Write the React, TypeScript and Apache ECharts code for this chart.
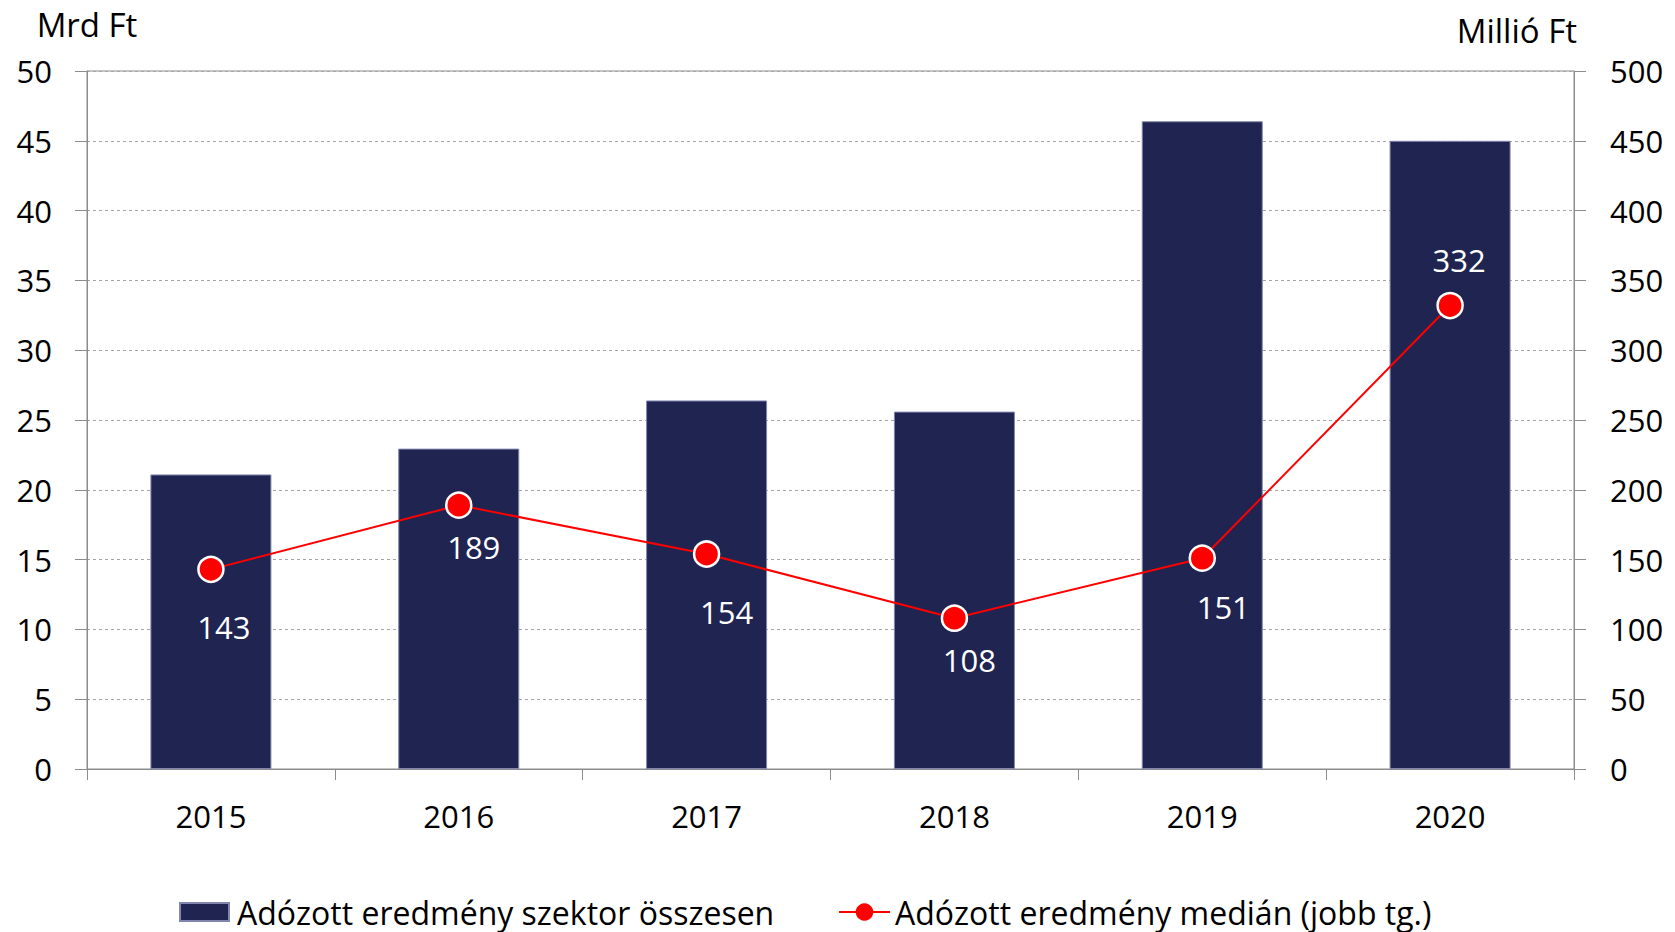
import React, { useEffect, useRef } from "react";
import * as echarts from "echarts";

const years = ["2015", "2016", "2017", "2018", "2019", "2020"];
const sectorTotal = [21.1, 22.95, 26.4, 25.6, 46.4, 45.0];
const median = [143, 189, 154, 108, 151, 332];
const labelOffsets = [
  [13, 58],
  [15, 42],
  [20, 58],
  [15, 42],
  [21, 49],
  [9, -46],
];

const FONT = "Open Sans";

export default function App() {
  const ref = useRef<HTMLDivElement>(null);
  useEffect(() => {
    document.body.style.margin = "0";
    const chart = echarts.init(ref.current!, null, { renderer: "svg" });
    chart.setOption({
      animation: false,
      textStyle: { fontFamily: FONT },
      grid: {
        left: 87,
        right: 101,
        top: 71,
        bottom: 163,
        show: true,
        borderColor: "#8c8c8c",
        borderWidth: 1,
        backgroundColor: "transparent",
      },
      legend: [
        {
          data: [{ name: "Adózott eredmény szektor összesen", icon: "rect" }],
          left: 174,
          top: 891,
          itemWidth: 49,
          itemHeight: 18,
          itemGap: 0,
          textStyle: { fontFamily: FONT, fontSize: 32, lineHeight: 32, color: "#000", padding: [0, 0, 0, 3] },
        },
        {
          data: [
            {
              name: "Adózott eredmény medián (jobb tg.)",
              itemStyle: { borderWidth: 0 },
            },
          ],
          left: 833,
          top: 891,
          itemWidth: 51,
          itemHeight: 22,
          textStyle: { fontFamily: FONT, fontSize: 32, lineHeight: 32, color: "#000", padding: [0, 0, 0, 0] },
        },
      ],
      xAxis: {
        type: "category",
        data: years,
        boundaryGap: true,
        axisLine: { lineStyle: { color: "#8c8c8c", width: 1 } },
        axisTick: { show: true, length: 11, lineStyle: { color: "#8c8c8c" } },
        axisLabel: { fontFamily: FONT, fontSize: 31, color: "#000", margin: 31 },
      },
      yAxis: [
        {
          type: "value",
          min: 0,
          max: 50,
          interval: 5,
          name: "Mrd Ft",
          nameLocation: "end",
          nameGap: 30,
          nameTextStyle: { fontFamily: FONT, fontSize: 33, color: "#000" },
          axisLine: { show: true, lineStyle: { color: "#8c8c8c" } },
          axisTick: { show: true, length: 12, lineStyle: { color: "#8c8c8c" } },
          axisLabel: { fontFamily: FONT, fontSize: 31, color: "#000", margin: 35 },
          splitLine: { show: true, lineStyle: { color: "#a6a6a6", type: [3, 3], width: 1 } },
        },
        {
          type: "value",
          min: 0,
          max: 500,
          interval: 50,
          position: "right",
          name: "Millió Ft",
          nameLocation: "end",
          nameGap: 24,
          nameTextStyle: { fontFamily: FONT, fontSize: 33, color: "#000", align: "right", padding: [0, -3, 0, 0] },
          axisLine: { show: true, lineStyle: { color: "#8c8c8c" } },
          axisTick: { show: true, length: 12, lineStyle: { color: "#8c8c8c" } },
          axisLabel: { fontFamily: FONT, fontSize: 31, color: "#000", margin: 36 },
          splitLine: { show: false },
        },
      ],
      series: [
        {
          name: "Adózott eredmény szektor összesen",
          type: "bar",
          data: sectorTotal,
          yAxisIndex: 0,
          barWidth: 121,
          itemStyle: { color: "#1F2451", borderColor: "#8086ad", borderWidth: 1 },
        },
        {
          name: "Adózott eredmény medián (jobb tg.)",
          type: "line",
          yAxisIndex: 1,
          data: median.map((v, i) => ({
            value: v,
            label: { offset: labelOffsets[i] },
          })),
          symbol: "circle",
          symbolSize: 25,
          lineStyle: { color: "#FF0000", width: 2 },
          itemStyle: { color: "#FF0000", borderColor: "#ffffff", borderWidth: 2.5 },
          label: {
            show: true,
            position: "inside",
            color: "#ffffff",
            fontFamily: FONT,
            fontSize: 31,
          },
        },
      ],
    });
    return () => chart.dispose();
  }, []);
  return <div ref={ref} style={{ width: 1675, height: 932 }} />;
}
